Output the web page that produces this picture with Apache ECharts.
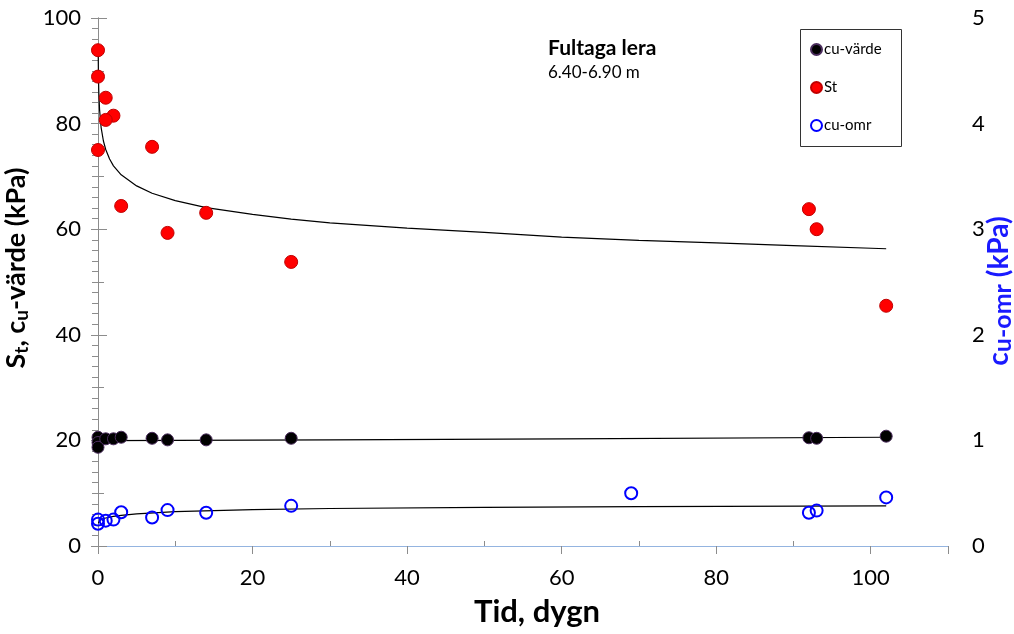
<!DOCTYPE html>
<html>
<head>
<meta charset="utf-8">
<script src="https://cdn.jsdelivr.net/npm/echarts@6/dist/echarts.min.js"></script>
<style>
  html, body { margin: 0; padding: 0; background: #fff; }
  #chart { width: 1014px; height: 634px; }
</style>
</head>
<body>
<div id="chart"></div>
<script>
// St (red dots)
const stTid = [0, 0, 1, 2, 1, 0, 7, 3, 14, 9, 25, 92, 93, 102];
const stVal = [93.9, 88.9, 84.9, 81.5, 80.7, 75.0, 75.6, 64.4, 63.1, 59.3, 53.8, 63.8, 60.0, 45.5];

// cu-värde (black dots)
const cuTid = [0, 0, 0, 1, 2, 3, 7, 9, 14, 25, 92, 93, 102];
const cuVal = [20.6, 19.6, 18.7, 20.3, 20.3, 20.6, 20.4, 20.1, 20.1, 20.4, 20.5, 20.4, 20.8];

// cu-omr (blue rings, right axis)
const omrTid = [0, 0, 1, 2, 3, 7, 9, 14, 25, 69, 92, 93, 102];
const omrVal = [0.25, 0.21, 0.24, 0.25, 0.32, 0.27, 0.34, 0.315, 0.38, 0.5, 0.315, 0.335, 0.46];

// trend lines
const stTrendTid = [0.02, 0.05, 0.1, 0.2, 0.4, 0.7, 1, 1.5, 2, 3, 5, 7, 10, 14, 20, 25, 30, 40, 50, 60, 70, 80, 90, 102];
const stTrendVal = [94.0, 89.9, 86.2, 82.7, 79.3, 76.7, 75.1, 73.3, 72.0, 70.3, 68.2, 66.8, 65.4, 64.1, 62.8, 61.9, 61.2, 60.2, 59.4, 58.5, 57.9, 57.4, 56.9, 56.3];
const cuTrendTid = [0.02, 1, 10, 30, 60, 102];
const cuTrendVal = [19.9, 19.95, 20.0, 20.1, 20.3, 20.6];
const omrTrendTid = [0.05, 0.2, 0.5, 1, 2, 3, 5, 10, 20, 30, 50, 70, 102];
const omrTrendVal = [0.215, 0.24, 0.255, 0.265, 0.28, 0.29, 0.305, 0.325, 0.345, 0.355, 0.365, 0.372, 0.38];

const xTicks = { min: 0, max: 110, interval: 20 };
const yTicks = { min: 0, max: 100, interval: 20 };
const y2Ticks = { min: 0, max: 5, interval: 1 };

const pairs = (xs, ys) => xs.map((x, i) => [x, ys[i]]);

const FONT = "Lato, 'Open Sans', sans-serif";
const grey = "#8c8c8c";
const blue = "#1a1aff";

const myChart = echarts.init(document.getElementById("chart"));

const option = {
  backgroundColor: "#fff",
  animation: false,
  textStyle: { fontFamily: FONT },
  grid: { left: 98, right: 66, top: 18, bottom: 88, outerBoundsMode: "none", containLabel: false },
  legend: {
    data: ["cu-värde", "St", "cu-omr"],
    orient: "vertical",
    left: 800,
    top: 30,
    padding: [12, 10, 12, 10],
    itemGap: 23,
    itemWidth: 11,
    itemHeight: 11,
    borderWidth: 0,
    icon: "circle",
    textStyle: { fontSize: 15, color: "#000", fontFamily: FONT, padding: [0, 0, 0, -3] },
  },
  graphic: [
    {
      type: "rect",
      left: 800,
      top: 29,
      shape: { width: 101, height: 117 },
      style: { fill: "rgba(0,0,0,0)", stroke: "#333", lineWidth: 1 },
      z: 100,
    },
    {
      type: "text",
      left: 548,
      top: 38,
      style: { text: "Fultaga lera", font: "bold 21px " + FONT, fill: "#000" },
    },
    {
      type: "text",
      left: 548,
      top: 64,
      style: { text: "6.40-6.90 m", font: "17px " + FONT, fill: "#000" },
    },
  ],
  xAxis: [
    {
      type: "value",
      ...xTicks,
      name: "Tid, dygn",
      nameLocation: "middle",
      nameGap: 50,
      nameTextStyle: { fontSize: 31, fontWeight: "bold", color: "#000", padding: [0, 0, 0, 28] },
      axisLine: { show: true, lineStyle: { color: grey, width: 1 } },
      axisTick: { show: true, length: 8, lineStyle: { color: grey } },
      minorTick: { show: true, splitNumber: 2, length: -5, lineStyle: { color: grey } },
      axisLabel: { fontSize: 22, color: "#000", margin: 21, showMaxLabel: false },
      splitLine: { show: false },
    },
    {
      type: "value",
      ...xTicks,
      position: "top",
      axisLine: { show: true, lineStyle: { color: "#94b4e0", width: 1 } },
      axisTick: { show: false },
      axisLabel: { show: false },
      splitLine: { show: false },
    },
  ],
  yAxis: [
    {
      type: "value",
      ...yTicks,
      name: "S{sub|t}, c{sub|u}-värde (kPa)",
      nameLocation: "middle",
      nameGap: 48,
      nameRotate: 90,
      nameTextStyle: {
        fontSize: 27,
        fontWeight: "bold",
        color: "#000",
        padding: [0, 0, 0, 28],
        rich: {
          sub: { fontSize: 19, fontWeight: "bold", color: "#000", padding: [12, 0, 0, 0] },
        },
      },
      axisLine: { show: true, lineStyle: { color: grey, width: 1 } },
      axisTick: { show: true, length: 7, lineStyle: { color: grey } },
      minorTick: { show: true, splitNumber: 2, length: -6, lineStyle: { color: grey } },
      axisLabel: { fontSize: 22, color: "#000", margin: 17 },
      splitLine: { show: false },
    },
    {
      type: "value",
      ...y2Ticks,
      position: "right",
      name: "c{sub|u-omr} (kPa)",
      nameLocation: "middle",
      nameGap: 34,
      nameMoveOverlap: false,
      nameRotate: 90,
      nameTextStyle: {
        fontSize: 28,
        fontWeight: "bold",
        color: blue,
        padding: [0, 18, 0, 0],
        rich: {
          sub: { fontSize: 25, fontWeight: "bold", color: blue, padding: [8, 0, 0, 0] },
        },
      },
      axisLine: { show: true, lineStyle: { color: grey, width: 1 } },
      axisTick: { show: true, length: 9, lineStyle: { color: grey } },
      minorTick: { show: true, splitNumber: 10, length: -6, lineStyle: { color: grey } },
      axisLabel: { fontSize: 22, color: "#000", margin: 24 },
      splitLine: { show: false },
    },
  ],
  series: [
    {
      name: "trend-st",
      type: "line",
      data: pairs(stTrendTid, stTrendVal),
      showSymbol: false,
      silent: true,
      lineStyle: { color: "#000", width: 1.2 },
      z: 1,
    },
    {
      name: "trend-cu",
      type: "line",
      data: pairs(cuTrendTid, cuTrendVal),
      showSymbol: false,
      silent: true,
      lineStyle: { color: "#000", width: 1.2 },
      z: 1,
    },
    {
      name: "trend-omr",
      type: "line",
      yAxisIndex: 1,
      data: pairs(omrTrendTid, omrTrendVal),
      showSymbol: false,
      silent: true,
      lineStyle: { color: "#000", width: 1.2 },
      z: 1,
    },
    {
      name: "cu-värde",
      type: "scatter",
      data: pairs(cuTid, cuVal),
      symbolSize: 12,
      itemStyle: { color: "#000", borderColor: "#4a2c5c", borderWidth: 1, opacity: 1 },
      z: 3,
    },
    {
      name: "St",
      type: "scatter",
      data: pairs(stTid, stVal),
      symbolSize: 13,
      itemStyle: { color: "#ff0000", borderColor: "#c00000", borderWidth: 1, opacity: 1 },
      z: 3,
    },
    {
      name: "cu-omr",
      type: "scatter",
      yAxisIndex: 1,
      data: pairs(omrTid, omrVal),
      symbolSize: 12,
      itemStyle: { color: "rgba(255,255,255,0)", borderColor: "#0000ff", borderWidth: 2, opacity: 1 },
      z: 3,
    },
  ],
};

myChart.setOption(option);
</script>
</body>
</html>
